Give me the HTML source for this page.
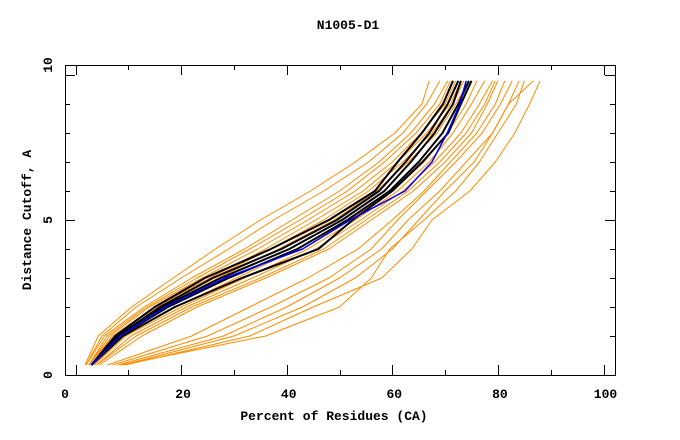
<!DOCTYPE html>
<html><head><meta charset="utf-8"><style>
body{margin:0;background:#fff}
svg{display:block}
text{font-family:"Liberation Mono",monospace;font-weight:bold;font-size:13px;fill:#000}
</style></head><body>
<svg id="chart" width="680" height="440" viewBox="0 0 680 440" xmlns="http://www.w3.org/2000/svg">
<rect width="680" height="440" fill="#fff"/>
<text x="348" y="29" text-anchor="middle">N1005-D1</text>
<text x="334" y="420" text-anchor="middle">Percent of Residues (CA)</text>
<text transform="translate(31,220) rotate(-90)" text-anchor="middle">Distance Cutoff, A</text>
<g id="ticks"></g>
<g id="series"></g>
<rect x="65.5" y="65.5" width="550" height="310" fill="none" stroke="#000" stroke-width="1"/>
</svg>
<script>
const xTickValues=[0,10,20,30,40,50,60,70,80,90,100];
const xTickLabels=["0","20","40","60","80","100"];
const yTickValues=[1,2,3,4,5,6,7,8,9,10];
const yLabels=["0","5","10"];
const levels=[0,1,2,3,4,5,6,7,8,9,9.8];
const orangeSeries=[
[1.8,4.3,10.6,18.5,26.5,35,44.5,53,60.5,65.6,67],
[2,5,11.5,20,29,37.5,47,55.5,62,66.5,69],
[2,5.5,13,22,32,41,50,57.5,63.5,68,70.5],
[2.5,6,13.5,23,33,42.5,51.5,58.5,64.5,69,71],
[2.5,6.5,14,24,34.5,44,53,60,65.5,70,72],
[2.5,7,15,25.5,36,45.5,54.5,61,66.5,71,73],
[3,7,15.5,26,37,47,55.5,62,67.5,71.5,73.5],
[3,7.5,16.5,27,38.5,49,57,63,68.5,72,74.5],
[3.5,9,19,30.5,42,52,60,66,70.5,74,76],
[3.5,9.5,20,32,44,53,61,67,71.5,75,77.5],
[4,10.5,21,33.5,45.5,54,62,68,73,76.5,79],
[4,11.5,22,35,47,55,63,69,74,77.5,79.5],
[4.5,12.6,23,36,48,56,64,70,75,78,80],
[6,22,33,44,53.5,60,66,71,76,79.5,81.3],
[7,25,37,48,56,61,66.5,72,77,80.5,82.7],
[8,28,40,50,58,63,69,74,79,82,84],
[9,30,43,53,60,65,70,75.5,79,82,86.7],
[9.4,33,45,58,63.7,67.5,74.7,79.5,83.2,86,88],
[8.5,36,50,56,59.5,66,72,76.5,80,83.5,85]
];
const blackSeries=[
[3,7.5,15,24.5,37,48,56.7,61,65.6,69.6,71.5],
[3,8,16,26,39,49.5,57.5,62.5,67,70.5,72.5],
[3,8,16.5,27.5,40.5,50.5,58.5,63.5,68,71.5,73],
[3,8.5,17.5,29,42,51.5,59.5,65,69.5,72.5,74.5],
[3,9,18.8,31.5,46,52.5,60,65.7,70.6,73,75]
];
const blueSeries=[3,8.5,17,28.3,43,52,62.4,67.5,70.4,72.8,74];

const NS="http://www.w3.org/2000/svg";
const xs=v=>75.5+5.28*v;
const ys=v=>365-29*v;
const tg=document.getElementById('ticks');
function line(g,x1,y1,x2,y2){const l=document.createElementNS(NS,'line');l.setAttribute('x1',x1);l.setAttribute('y1',y1);l.setAttribute('x2',x2);l.setAttribute('y2',y2);l.setAttribute('stroke','#000');


g.appendChild(l);}
xTickValues.forEach((v,i)=>{const x=Math.round(xs(v))+0.5;const len=(i%2==0)?10:5;
line(tg,x,375,x,375-len);line(tg,x,65,x,65+len);});
yTickValues.forEach(v=>{const y=Math.round(ys(v))+0.5;const len=(v%5==0)?10:5;
line(tg,65,y,65+len,y);line(tg,615,y,615-len,y);});
xTickLabels.forEach((t,i)=>{const e=document.createElementNS(NS,'text');e.setAttribute('x',i==0?65:xs(i*20)+2);e.setAttribute('y',398);e.setAttribute('text-anchor','middle');e.textContent=t;


tg.appendChild(e);});
const yLabelPos=[375,220,65];
yLabels.forEach((t,i)=>{const e=document.createElementNS(NS,'text');e.setAttribute('transform','translate(52,'+yLabelPos[i]+') rotate(-90)');e.setAttribute('text-anchor','middle');e.textContent=t;


tg.appendChild(e);});
const sg=document.getElementById('series');
function drawSeries(vals,color,w,name){const p=document.createElementNS(NS,'polyline');
p.setAttribute('points',vals.map((v,i)=>xs(v).toFixed(1)+','+ys(levels[i]).toFixed(1)).join(' '));
p.setAttribute('fill','none');p.setAttribute('stroke',color);p.setAttribute('stroke-width',w);p.setAttribute('stroke-linejoin','round');


sg.appendChild(p);}
orangeSeries.forEach(s=>drawSeries(s,'#ff8c00',1,'orange-curve'));
blackSeries.forEach(s=>drawSeries(s,'#000',2,'black-curve'));
drawSeries(blueSeries,'#0000ff',1.5,'blue-curve');
</script>
</body></html>
